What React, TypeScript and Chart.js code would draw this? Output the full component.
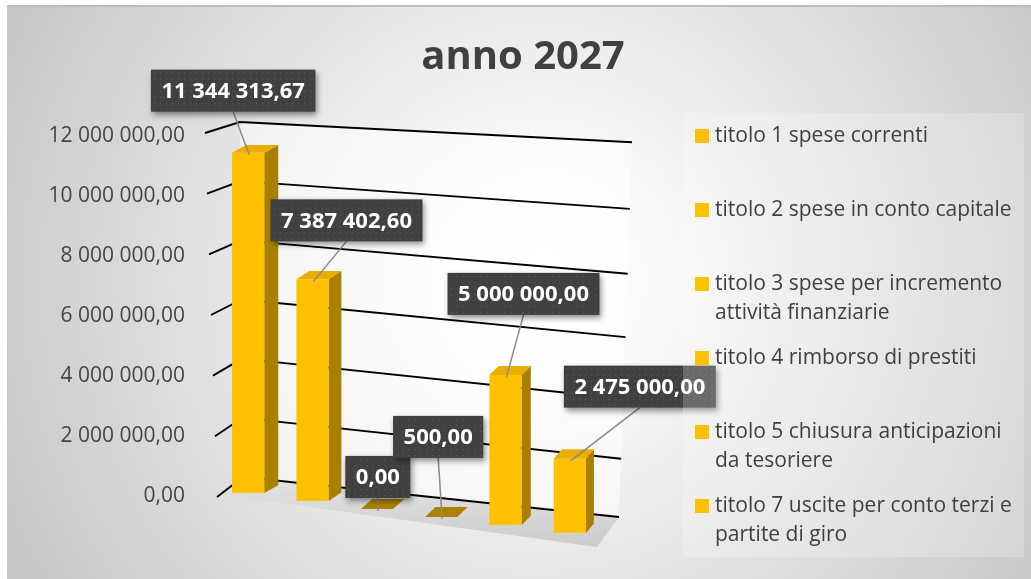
import React, { useEffect, useRef } from "react";
import { Chart, registerables } from "chart.js";

Chart.register(...registerables);

// ---------- data ----------
const categories: string[][] = [
  ["titolo 1 spese correnti"],
  ["titolo 2 spese in conto capitale"],
  ["titolo 3 spese per incremento", "attività finanziarie"],
  ["titolo 4 rimborso di prestiti"],
  ["titolo 5 chiusura anticipazioni", "da tesoriere"],
  ["titolo 7 uscite per conto terzi e", "partite di giro"],
];
const values: number[] = [11344313.67, 7387402.6, 0, 500, 5000000, 2475000];
const yTicks: number[] = [0, 2000000, 4000000, 6000000, 8000000, 10000000, 12000000];
const chartTitle = "anno 2027";

// label box offsets relative to each bar top (style only)
const labelOffsets: number[][] = [
  [-15, -62],
  [34, -59],
  [1, -32],
  [-3, -80],
  [18, -81],
  [70, -72],
];

const FONT = "'Open Sans', sans-serif";

function fmt(v: number): string {
  const [int, dec] = Math.abs(v).toFixed(2).split(".");
  const grouped = int.replace(/\B(?=(\d{3})+(?!\d))/g, " ");
  return (v < 0 ? "-" : "") + grouped + "," + dec;
}

function poly(ctx: CanvasRenderingContext2D, pts: number[][], fill: string | CanvasGradient) {
  ctx.beginPath();
  ctx.moveTo(pts[0][0], pts[0][1]);
  for (let i = 1; i < pts.length; i++) ctx.lineTo(pts[i][0], pts[i][1]);
  ctx.closePath();
  ctx.fillStyle = fill;
  ctx.fill();
}

const scenePlugin = {
  id: "scene3d",
  beforeDraw(chart: any) {
    const { ctx, width, height } = chart;
    const ca = chart.chartArea;
    const y = chart.scales.y;
    const ch = ca.bottom - ca.top;
    ctx.save();
    ctx.fillStyle = "#ffffff";
    ctx.fillRect(0, 0, width, height);
    const g = ctx.createRadialGradient(540, 280, 0, 540, 280, 640);
    g.addColorStop(0, "#ffffff");
    g.addColorStop(0.15, "#fcfcfc");
    g.addColorStop(1, "#c2c2c2");
    ctx.fillStyle = g;
    ctx.fillRect(7, 5, width - 7, height - 5);
    ctx.fillStyle = "#bdbdbd";
    ctx.fillRect(7, 5, width - 7, 2);

    // title
    ctx.fillStyle = "#404040";
    ctx.font = `bold 40px ${FONT}`;
    ctx.textAlign = "center";
    ctx.textBaseline = "middle";
    ctx.fillText(chartTitle, 523, 58);

    const frac = (v: number) => (ca.bottom - y.getPixelForValue(v)) / ch;
    const L = (v: number) => {
      const f = frac(v);
      return [ca.left + 24 + 3 * (1 - f), y.getPixelForValue(v) - 19 + 5 * f];
    };
    const R = (v: number) => {
      const f = frac(v);
      return [ca.right + 17 + 13 * f, ca.bottom + 21 - (ch * 0.958) * f - (ch * 0.083) * f * f];
    };
    const T = (v: number) => {
      const f = frac(v);
      return [ca.left - 11 + 12 * (1 - f), y.getPixelForValue(v) - 3 + 4 * (1 - f)];
    };
    const vMin = yTicks[0];
    const vMax = yTicks[yTicks.length - 1];

    // back wall
    poly(ctx, [L(vMax), R(vMax), R(vMin), L(vMin)], "rgba(255,255,255,0.55)");
    // floor
    const fg = ctx.createLinearGradient(0, L(vMin)[1], 0, ca.bottom + 51);
    fg.addColorStop(0, "#e4e4e4");
    fg.addColorStop(1, "#cbcbcb");
    poly(ctx, [L(vMin), R(vMin), [ca.right - 5, ca.bottom + 51], [ca.left + 8, ca.bottom - 1]], fg);

    // grid lines
    ctx.strokeStyle = "#000000";
    ctx.lineWidth = 1.9;
    ctx.lineJoin = "round";
    for (const v of yTicks) {
      const t = T(v), l = L(v), r = R(v);
      ctx.beginPath();
      ctx.moveTo(t[0], t[1]);
      ctx.lineTo(l[0], l[1]);
      ctx.lineTo(r[0], r[1]);
      ctx.stroke();
    }
    ctx.restore();
  },
  afterDatasetsDraw(chart: any) {
    const { ctx } = chart;
    const ca = chart.chartArea;
    const y = chart.scales.y;
    const ch = ca.bottom - ca.top;
    const meta = chart.getDatasetMeta(0);
    const els = meta.data;
    const n = els.length;
    const x0 = els[0].x;
    const xN = els[n - 1].x;
    const data = chart.data.datasets[0].data as number[];

    const bars = els.map((el: any, i: number) => {
      const cx = el.x;
      const w = el.width;
      const t = (cx - x0) / (xN - x0);
      const bottom = ca.bottom - 3 + 0.124 * (cx - x0);
      const h = ca.bottom - y.getPixelForValue(data[i]);
      const top = bottom - h;
      const dx = 14 - 6 * t;
      const dy = -(7.5 + 2.5 * (1 - h / ch));
      return { cx, xl: cx - w / 2, xr: cx + w / 2, top, bottom, dx, dy, h };
    });

    ctx.save();
    bars.forEach((b: any) => {
      if (b.h > 0.8) {
        poly(ctx, [[b.xr, b.top], [b.xr + b.dx, b.top + b.dy], [b.xr + b.dx, b.bottom + b.dy], [b.xr, b.bottom]], "#a87f00");
        ctx.fillStyle = "#ffc000";
        ctx.fillRect(b.xl, b.top, b.xr - b.xl, b.bottom - b.top);
        poly(ctx, [[b.xl, b.top], [b.xl + b.dx, b.top + b.dy], [b.xr + b.dx, b.top + b.dy], [b.xr, b.top]], "#e9ae00");
      } else {
        poly(ctx, [[b.xl, b.top], [b.xl + b.dx, b.top + b.dy], [b.xr + b.dx, b.top + b.dy], [b.xr, b.top]], "#a88200");
      }
    });

    // data labels
    ctx.font = `bold 22px ${FONT}`;
    ctx.textAlign = "center";
    ctx.textBaseline = "middle";
    bars.forEach((b: any, i: number) => {
      const text = fmt(data[i]);
      const tw = ctx.measureText(text).width;
      const bw = tw + 21;
      const bh = 42;
      const bx = b.cx + labelOffsets[i][0];
      const by = b.top + labelOffsets[i][1];
      const ay = by + bh / 2;
      const ex = b.cx + 1;
      const ey = b.top + 2;
      if (ey - ay > 4) {
        ctx.strokeStyle = "#8a8a8a";
        ctx.lineWidth = 1.5;
        ctx.beginPath();
        ctx.moveTo(bx, ay);
        ctx.lineTo(ex, ey);
        ctx.stroke();
      }
      ctx.save();
      ctx.shadowColor = "rgba(0,0,0,0.45)";
      ctx.shadowBlur = 6;
      ctx.shadowOffsetX = 2;
      ctx.shadowOffsetY = 3;
      ctx.fillStyle = "#404040";
      ctx.fillRect(bx - bw / 2, by - bh / 2, bw, bh);
      ctx.restore();
      ctx.fillStyle = "rgba(255,255,255,0.12)";
      for (let yy = by - bh / 2 + 3; yy < by + bh / 2 - 1; yy += 6) {
        for (let xx = bx - bw / 2 + 3; xx < bx + bw / 2 - 1; xx += 6) {
          ctx.fillRect(xx, yy, 1.3, 1.3);
        }
      }
      ctx.fillStyle = "#ffffff";
      ctx.fillText(text, bx, by + 1);
    });

    // legend panel
    ctx.fillStyle = "rgba(255,255,255,0.22)";
    ctx.fillRect(683, 113, 341, 444);
    ctx.font = `21px ${FONT}`;
    ctx.textAlign = "left";
    ctx.textBaseline = "middle";
    const labels = chart.data.labels as string[][];
    labels.forEach((lines, i) => {
      const cy = 136 + 74 * i;
      ctx.fillStyle = "#ffc000";
      ctx.fillRect(695, cy - 7, 14, 14);
      ctx.fillStyle = "#404040";
      lines.forEach((ln, k) => ctx.fillText(ln, 715, cy + k * 29));
    });
    ctx.restore();
  },
};

export default function App() {
  const ref = useRef<HTMLCanvasElement>(null);
  useEffect(() => {
    if (!ref.current) return;
    Chart.defaults.font.family = FONT;
    const chart = new Chart(ref.current, {
      type: "bar",
      data: {
        labels: categories,
        datasets: [
          {
            data: values,
            backgroundColor: "rgba(0,0,0,0)",
            borderWidth: 0,
            barPercentage: 0.5,
            categoryPercentage: 1,
          },
        ],
      },
      options: {
        responsive: false,
        animation: false,
        layout: { padding: { left: 46, right: 429, top: 136, bottom: 83 } },
        scales: {
          x: { display: false },
          y: {
            min: yTicks[0],
            max: yTicks[yTicks.length - 1],
            afterBuildTicks: (s: any) => {
              s.ticks = yTicks.map((v) => ({ value: v }));
            },
            afterFit: (s: any) => {
              s.width = 170;
            },
            grid: { display: false, drawTicks: false, tickLength: 0 },
            border: { display: false },
            ticks: {
              padding: 31,
              color: "#454545",
              font: { family: FONT, size: 21 },
              callback: (v: any) => fmt(Number(v)),
            },
          },
        },
        plugins: {
          legend: { display: false },
          title: { display: false },
          tooltip: { enabled: false },
        },
      },
      plugins: [scenePlugin],
    });
    return () => chart.destroy();
  }, []);
  return (
    <div style={{ position: "fixed", left: 0, top: 0, width: 1031, height: 579 }}>
      <canvas ref={ref} width={1031} height={579} style={{ display: "block" }} />
    </div>
  );
}
